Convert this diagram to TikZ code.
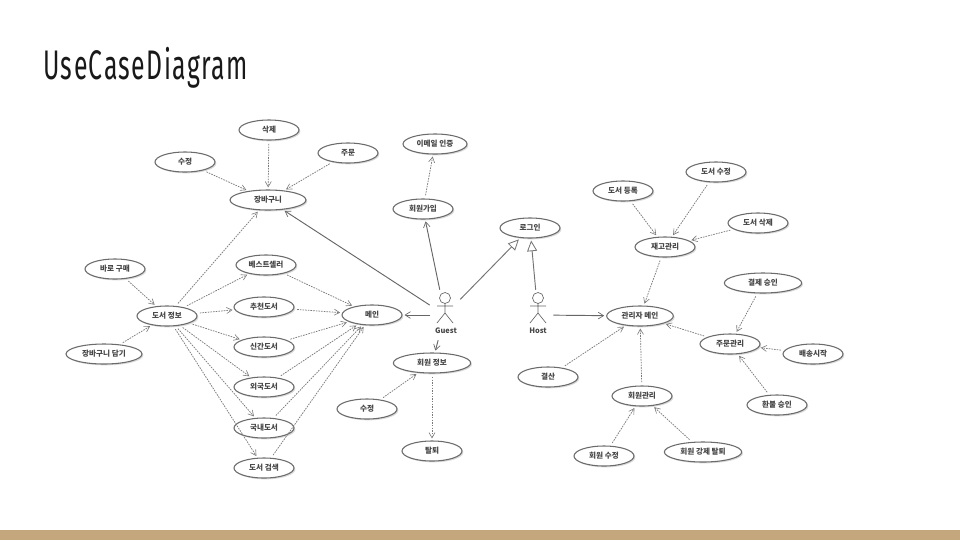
\documentclass[tikz,border=0pt]{standalone}
\usepackage{fontspec}
\setmainfont{Noto Sans CJK KR}
\newfontfamily\titlefont[FakeStretch=0.6,LetterSpace=3.5]{Fira Sans}
\usetikzlibrary{shapes.geometric,arrows.meta,shadows}
\definecolor{band}{HTML}{C4A77D}
\definecolor{edgegray}{HTML}{7A7A7A}
\tikzset{
  usecase/.style={ellipse,draw=black!58,line width=0.8pt,fill=white,inner sep=0pt,
    minimum height=15pt,minimum width=#1,font=\bfseries\fontsize{5.7}{6}\selectfont,text=black!72,
    drop shadow={shadow xshift=1pt,shadow yshift=-1pt,opacity=0.15,fill=black}},
  usecase/.default=45pt,
  actorbox/.style={rectangle,draw=none,minimum width=22.5pt,minimum height=37.5pt,inner sep=0pt},
  actorlabel/.style={font=\bfseries\fontsize{5.6}{6}\selectfont,text=black!72,inner sep=0pt},
  stick/.style={draw=black!60,line width=0.5pt},
  dep/.style={draw=edgegray,line width=0.55pt,dash pattern=on 1.2pt off 0.8pt,shorten <=2.5pt,shorten >=1.5pt,
    -{Straight Barb[length=4pt,width=4.5pt,line width=0.45pt]}},
  assoc/.style={draw=black!60,line width=0.7pt,shorten >=1.5pt,
    -{Straight Barb[length=4pt,width=5pt,line width=0.5pt]}},
  gen/.style={draw=black!55,line width=0.7pt,shorten >=1.5pt,
    -{Triangle[open,length=8pt,width=7.5pt,fill=white,line width=0.6pt]}},
}
\begin{document}
\begin{tikzpicture}[x=0.75pt,y=-0.75pt]
\useasboundingbox (0,0) rectangle (960,540);
\fill[white] (0,0) rectangle (960,540);
\fill[band] (0,530) rectangle (960,540);
\node[anchor=west,inner sep=0pt,text=black!90,font=\titlefont\fontsize{31}{34}\selectfont] (title) at (43,68) {UseCaseDiagram};

\node[usecase] (sujeong1) at (185,162) {수정};
\node[usecase] (sakje) at (269,130) {삭제};
\node[usecase] (jumun) at (348,153) {주문};
\node[usecase=57pt] (cart) at (268,200) {장바구니};
\node[usecase=48pt] (email) at (435,144) {이메일 인증};
\node[usecase] (signup) at (423,209) {회원가입};
\node[usecase] (best) at (266,265) {베스트셀러};
\node[usecase] (rec) at (264,307) {추천도서};
\node[usecase] (new) at (264,347) {신간도서};
\node[usecase] (foreign) at (264,387) {외국도서};
\node[usecase] (domestic) at (264,428) {국내도서};
\node[usecase] (search) at (264,468) {도서 검색};
\node[usecase] (info) at (167,316) {도서 정보};
\node[usecase] (buy) at (115,269) {바로 구매};
\node[usecase=57pt] (addcart) at (104,354) {장바구니 담기};
\node[usecase] (main) at (372,315) {메인};
\node[usecase=58pt] (member) at (432,363) {회원 정보};
\node[usecase] (sujeong2) at (367,409) {수정};
\node[usecase] (leave) at (432,451) {탈퇴};
\node[usecase] (login) at (530,228) {로그인};
\node[usecase] (stock) at (665,247) {재고관리};
\node[usecase] (bookadd) at (623,191) {도서 등록};
\node[usecase] (bookedit) at (716,172) {도서 수정};
\node[usecase] (bookdel) at (758,223) {도서 삭제};
\node[usecase=58pt] (payok) at (763,283) {결제 승인};
\node[usecase=50pt] (admin) at (640,316) {관리자 메인};
\node[usecase] (order) at (730,344) {주문관리};
\node[usecase] (ship) at (813,354) {배송시작};
\node[usecase] (refund) at (777,405) {환불 승인};
\node[usecase] (settle) at (548,377) {결산};
\node[usecase] (memmgr) at (642,396) {회원관리};
\node[usecase] (memedit) at (604,456) {회원 수정};
\node[usecase=58pt] (memkick) at (703,452) {회원 강제 탈퇴};

% actors
\node[actorbox] (guest) at (445,315) {};
\node[actorbox] (host) at (538,315) {};
\node[actorlabel] (guestlabel) at (446,331) {Guest};
\node[actorlabel] (hostlabel) at (538,331) {Host};
\foreach \a/\cx in {guest/445,host/538}{
  \draw[stick] (\cx,298) circle[radius=5.5];
  \draw[stick] (\cx,303.5) -- (\cx,313) (\cx-8,306) -- (\cx+8,306)
    (\cx-8,323) -- (\cx,313) -- (\cx+8,323);
}

% solid associations
\draw[assoc] (guest) -- (cart);
\draw[assoc] (guest) -- (signup);
\draw[assoc] (guest) -- (main);
\draw[assoc] (guest) -- (member);
\draw[assoc] (host) -- (admin);
\draw[gen] (guest) -- (login);
\draw[gen] (host) -- (login);

% dependencies: left group
\draw[dep] (sujeong1) -- (cart);
\draw[dep] (sakje) -- (cart);
\draw[dep] (jumun) -- (cart);
\draw[dep] (signup) -- (email);
\draw[dep] (info) -- (cart);
\draw[dep] (info) -- (best);
\draw[dep] (info) -- (rec);
\draw[dep] (info) -- (new);
\draw[dep] (info) -- (foreign);
\draw[dep] (info) -- (domestic);
\draw[dep] (info) -- (search);
\draw[dep] (buy) -- (info);
\draw[dep] (addcart) -- (info);
\draw[dep] (best) -- (main);
\draw[dep] (rec) -- (main);
\draw[dep] (new) -- (main);
\draw[dep] (foreign) -- (main);
\draw[dep] (domestic) -- (main);
\draw[dep] (search) -- (main);
\draw[dep] (sujeong2) -- (member);
\draw[dep] (member) -- (leave);

% dependencies: right group
\draw[dep] (bookadd) -- (stock);
\draw[dep] (bookedit) -- (stock);
\draw[dep] (bookdel) -- (stock);
\draw[dep] (stock) -- (admin);
\draw[dep] (settle) -- (admin);
\draw[dep] (memmgr) -- (admin);
\draw[dep] (order) -- (admin);
\draw[dep] (payok) -- (order);
\draw[dep] (ship) -- (order);
\draw[dep] (refund) -- (order);
\draw[dep] (memedit) -- (memmgr);
\draw[dep] (memkick) -- (memmgr);
\end{tikzpicture}
\end{document}
